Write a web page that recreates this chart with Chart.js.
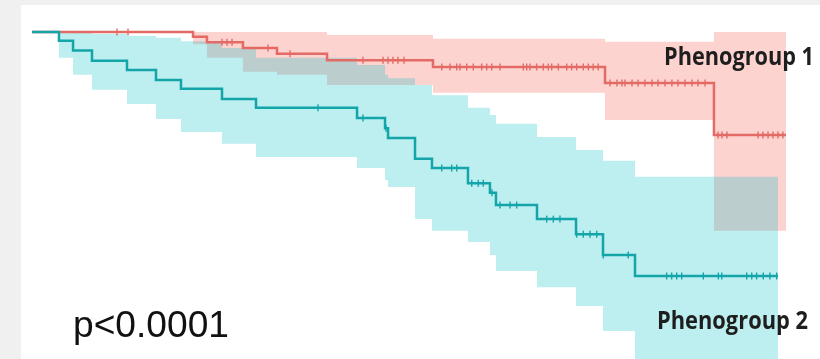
<!DOCTYPE html>
<html>
<head>
<meta charset="utf-8">
<script src="https://cdn.jsdelivr.net/npm/chart.js@4.4.1/dist/chart.umd.min.js"></script>
<style>
  html, body { margin: 0; padding: 0; background: #f0f0f0; }
  canvas { display: block; }
</style>
</head>
<body>
<canvas id="kmChart" width="820" height="359"></canvas>
<script>
// time in months, survival as fraction
const pheno1Time  = [0, 12.83, 13.94, 16.81, 19.52, 23.51, 31.95, 45.66, 54.34, 60.08];
const pheno1Surv  = [1, 0.990, 0.979, 0.967, 0.955, 0.942, 0.928, 0.895, 0.788, 0.788];
const pheno1Upper = [1, 1, 1, 1, 1, 0.994, 0.986, 0.980, 1, 1];
const pheno1Lower = [1, 0.975, 0.947, 0.918, 0.912, 0.891, 0.875, 0.819, 0.591, 0.591];
const pheno1Censor = [6.77, 7.65, 15.14, 15.54, 15.94, 18.80, 20.56, 26.37, 27.97, 28.37, 28.76, 29.16, 29.64,
  32.65, 33.31, 33.84, 34.10, 34.64, 35.16, 35.83, 36.23, 36.63, 37.29, 39.15, 39.42, 39.68, 40.21, 40.74,
  41.14, 41.41, 41.94, 42.61, 43.00, 43.40, 43.93, 44.33, 44.72, 45.12,
  46.06, 46.61, 47.01, 47.25, 47.81, 48.29, 48.84, 49.40, 49.88, 50.44, 50.99, 51.47, 52.03, 52.59, 53.07, 53.63,
  54.66, 54.98, 55.38, 57.85, 58.25, 58.65, 59.04, 59.44, 59.84];

const pheno2Time  = [0, 2.15, 3.27, 4.78, 7.57, 9.88, 11.87, 15.14, 17.85, 25.90, 28.13, 28.37, 30.52, 31.87,
  34.74, 36.49, 36.97, 40.24, 43.35, 45.50, 48.05, 59.44];
const pheno2Surv  = [1, 0.982, 0.962, 0.941, 0.922, 0.901, 0.883, 0.862, 0.844, 0.823, 0.802, 0.782, 0.739, 0.720,
  0.689, 0.669, 0.644, 0.615, 0.584, 0.541, 0.498, 0.498];
const pheno2Upper = [1, 1.0, 0.998, 0.996, 0.992, 0.988, 0.981, 0.967, 0.947, 0.932, 0.912, 0.905, 0.891, 0.870,
  0.844, 0.829, 0.811, 0.784, 0.757, 0.735, 0.702, 0.702];
const pheno2Lower = [1, 0.947, 0.912, 0.881, 0.852, 0.821, 0.794, 0.770, 0.743, 0.720, 0.695, 0.681, 0.615, 0.591,
  0.568, 0.541, 0.508, 0.475, 0.436, 0.385, 0.300, 0.300];
const pheno2Censor = [22.79, 26.37, 28.21, 32.65, 33.44, 33.84, 35.04, 35.56, 35.96, 36.65, 37.29, 38.09, 38.62,
  41.01, 41.54, 42.07, 43.40, 43.93, 44.46, 45.00, 45.52, 47.51,
  50.57, 50.97, 51.37, 51.77, 53.49, 54.69, 54.96, 56.95, 57.35, 57.74, 58.27, 58.80, 59.34];

const redLine = '#e46b65';
const tealLine = '#14a5a9';

function pts(t, v) {
  return t.map((x, i) => ({ x: x, y: v[i] }));
}
// survival of the step curve at time t (censored marks sit on the curve)
function survAt(t, v, at) {
  let s = v[0];
  for (let i = 0; i < t.length; i++) if (t[i] <= at) s = v[i];
  return s;
}
function censorPts(t, v, c) {
  return c.map(x => ({ x: x, y: survAt(t, v, x) }));
}

const bgPlugin = {
  id: 'bg',
  beforeDraw(chart) {
    const ctx = chart.ctx;
    ctx.save();
    ctx.fillStyle = '#f0f0f0';
    ctx.fillRect(0, 0, chart.width, chart.height);
    ctx.fillStyle = '#ffffff';
    ctx.fillRect(21, 5, chart.width - 21, chart.height - 5);
    ctx.restore();
  }
};

function fitText(ctx, txt, x, y, w) {
  const m = ctx.measureText(txt).width;
  ctx.save();
  ctx.translate(x, y);
  ctx.scale(w / m, 1);
  ctx.fillText(txt, 0, 0);
  ctx.restore();
}

const labelPlugin = {
  id: 'labels',
  afterDraw(chart) {
    const ctx = chart.ctx;
    ctx.save();
    ctx.textBaseline = 'alphabetic';
    ctx.fillStyle = '#1e1e1e';
    ctx.font = 'bold 25px "Open Sans"';
    fitText(ctx, 'Phenogroup 1', 664, 65, 150);
    fitText(ctx, 'Phenogroup 2', 657, 329, 151);
    ctx.fillStyle = '#111111';
    ctx.font = '37px "Liberation Sans"';
    fitText(ctx, 'p<0.0001', 73, 337, 156);
    ctx.restore();
  }
};

new Chart(document.getElementById('kmChart'), {
  type: 'line',
  data: {
    datasets: [
      { data: pts(pheno1Time, pheno1Upper), fill: '+1', backgroundColor: 'rgba(248,118,109,0.32)',
        borderWidth: 0, pointRadius: 0, stepped: true, order: 10 },
      { data: pts(pheno1Time, pheno1Lower), fill: false, borderWidth: 0, pointRadius: 0, stepped: true, order: 10 },
      { data: pts(pheno2Time, pheno2Upper), fill: '+1', backgroundColor: 'rgba(0,191,196,0.26)',
        borderWidth: 0, pointRadius: 0, stepped: true, order: 9 },
      { data: pts(pheno2Time, pheno2Lower), fill: false, borderWidth: 0, pointRadius: 0, stepped: true, order: 9 },
      { data: pts(pheno1Time, pheno1Surv), borderColor: redLine, borderWidth: 2.5, pointRadius: 0,
        stepped: true, fill: false, order: 2 },
      { data: pts(pheno2Time, pheno2Surv), borderColor: tealLine, borderWidth: 2.5, pointRadius: 0,
        stepped: true, fill: false, order: 1 },
      { data: censorPts(pheno1Time, pheno1Surv, pheno1Censor), showLine: false, pointStyle: 'line',
        rotation: 90, pointRadius: 3.5, pointBorderWidth: 1.4, borderColor: redLine, order: 0 },
      { data: censorPts(pheno2Time, pheno2Surv, pheno2Censor), showLine: false, pointStyle: 'line',
        rotation: 90, pointRadius: 3.5, pointBorderWidth: 1.4, borderColor: tealLine, order: 0 }
    ]
  },
  options: {
    responsive: false,
    animation: false,
    layout: { padding: 0, autoPadding: false },
    plugins: { legend: { display: false }, tooltip: { enabled: false } },
    scales: {
      x: { type: 'linear', display: false, min: -2.55, max: 62.79 },
      y: { type: 'linear', display: false, min: 0.3272, max: 1.0658 }
    }
  },
  plugins: [bgPlugin, labelPlugin]
});
</script>
</body>
</html>
